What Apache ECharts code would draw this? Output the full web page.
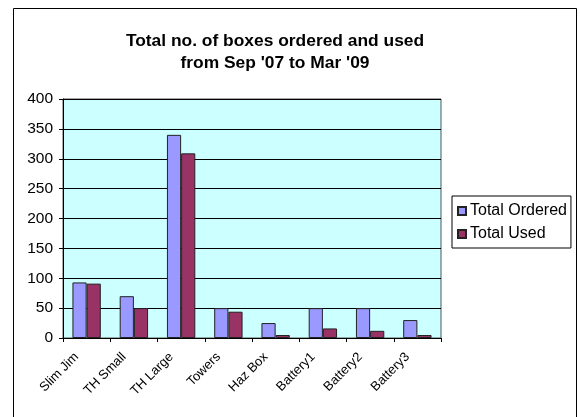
<!DOCTYPE html>
<html><head><meta charset="utf-8">
<script src="https://cdn.jsdelivr.net/npm/echarts@6/dist/echarts.min.js"></script>
<style>html,body{margin:0;padding:0;background:#fff}#c{width:580px;height:417px}</style>
</head><body><div id="c"></div>
<script>
const categories = ['Slim Jim','TH Small','TH Large','Towers','Haz Box','Battery1','Battery2','Battery3'];
const totalOrdered = [93, 70, 340, 50, 25, 50, 50, 30];
const totalUsed = [91, 50, 309, 44, 5, 16, 12, 5];
const yTicks = [0, 50, 100, 150, 200, 250, 300, 350, 400];

const chart = echarts.init(document.getElementById('c'), null, {renderer:'canvas'});
const font = 'Liberation Sans, Arial, sans-serif';
chart.setOption({
  animation:false,
  backgroundColor:'#fff',
  graphic:[{type:'rect',shape:{x:13.5,y:8.5,width:563,height:420},style:{fill:'none',stroke:'#000',lineWidth:1}}],
  title:{text:"Total no. of boxes ordered and used\nfrom Sep '07 to Mar '09",left:270,textAlign:'center',top:25,
    textStyle:{fontFamily:font,fontSize:17.4,fontWeight:'bold',color:'#000',lineHeight:22}},
  legend:{orient:'vertical',left:452,top:196,width:121,height:47,itemWidth:8,itemHeight:8,itemGap:7,
    padding:[7,4,6,5],borderColor:'#000',borderWidth:1,backgroundColor:'#fff',
    textStyle:{fontFamily:font,fontSize:16,color:'#000',padding:[0,0,0,-1]},
    data:[{name:'Total Ordered',icon:'rect'},{name:'Total Used',icon:'rect'}]},
  grid:{left:63,top:99,width:378,height:239,show:true,backgroundColor:'#CCFFFF',borderColor:'#555',borderWidth:1},
  xAxis:{type:'category',data:categories,
    axisLine:{lineStyle:{color:'#000'}},axisTick:{show:true,alignWithLabel:false,length:4,lineStyle:{color:'#000'}},
    axisLabel:{rotate:45,interval:0,fontFamily:font,fontSize:13,color:'#000',margin:7,padding:[0,14,0,0]}},
  yAxis:{type:'value',min:0,max:400,interval:50,
    axisLine:{show:true,lineStyle:{color:'#000'}},axisTick:{show:true,length:4,lineStyle:{color:'#000'}},
    splitLine:{lineStyle:{color:'#000',width:1}},
    axisLabel:{fontFamily:font,fontSize:15.5,color:'#000',margin:10,
      formatter:v=>yTicks.includes(v)?String(v):''}},
  series:[
    {name:'Total Ordered',type:'bar',data:totalOrdered,barGap:'0%',barCategoryGap:'40%',
     itemStyle:{color:'#9999FF',borderColor:'#222',borderWidth:1}},
    {name:'Total Used',type:'bar',data:totalUsed,
     itemStyle:{color:'#993366',borderColor:'#222',borderWidth:1}}
  ]
});
</script></body></html>
